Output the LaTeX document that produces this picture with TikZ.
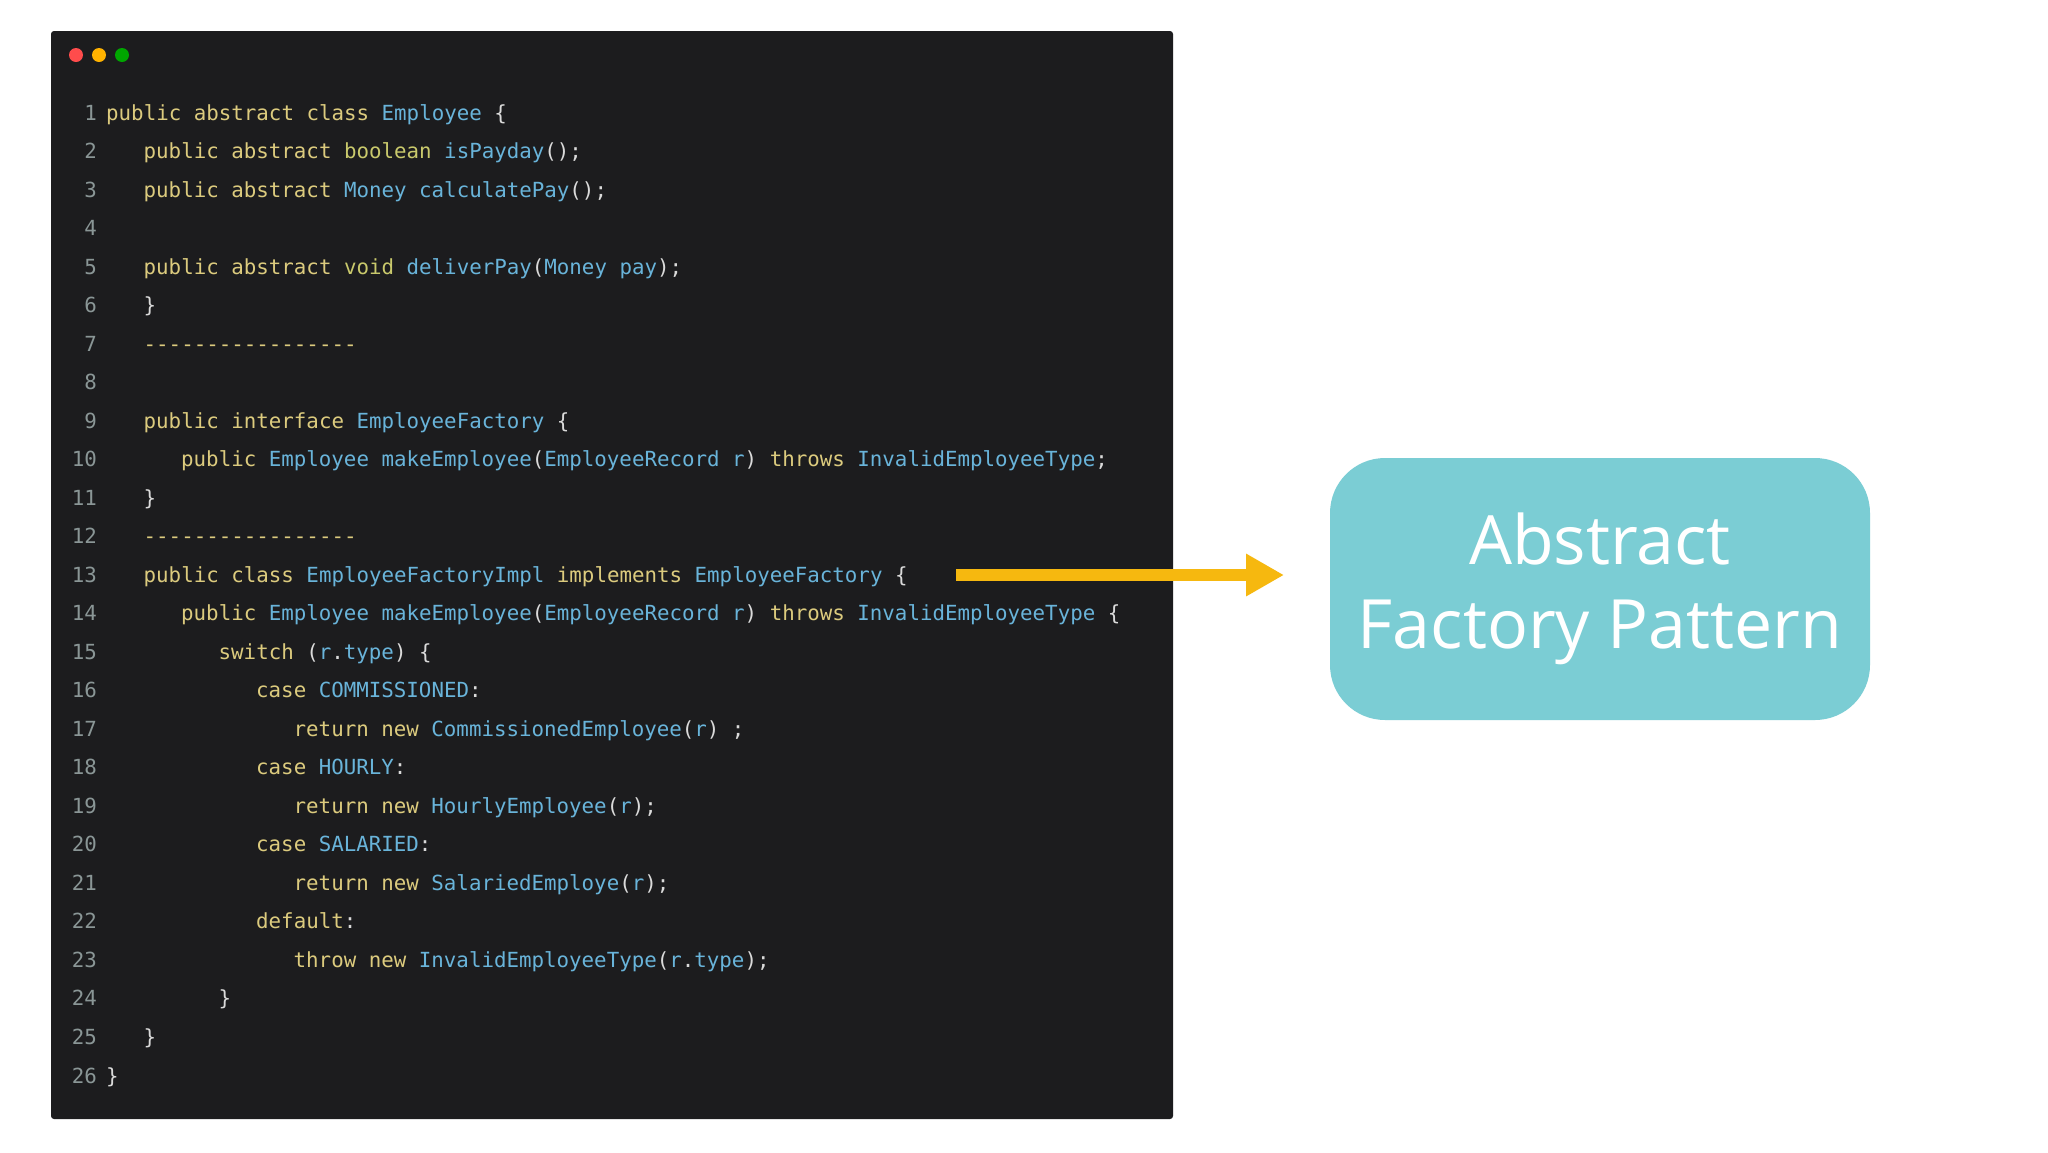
\documentclass[tikz,border=0pt]{standalone}
\usepackage{fontspec}
\setmainfont{Open Sans}
\newfontfamily\cm{DejaVu Sans Mono}
\usetikzlibrary{arrows.meta}
\definecolor{bgc}{HTML}{1C1C1E}
\definecolor{kwc}{HTML}{DCCB7E}
\definecolor{tyc}{HTML}{69B4DA}
\definecolor{prc}{HTML}{C9C96C}
\definecolor{pnc}{HTML}{DADADA}
\definecolor{lnc}{HTML}{8A9696}
\definecolor{boxc}{HTML}{7BCDD4}
\definecolor{arc}{HTML}{F6B80F}
\newcommand{\ck}[1]{\textcolor{kwc}{#1}}
\newcommand{\ct}[1]{\textcolor{tyc}{#1}}
\newcommand{\cp}[1]{\textcolor{prc}{#1}}
\newcommand{\cw}[1]{\textcolor{pnc}{#1}}
\begin{document}
\begin{tikzpicture}[x=1pt,y=-1pt,
  code/.style={anchor=base west,inner sep=0,font=\cm\fontsize{20.8}{24}\selectfont,text=pnc},
  lnum/.style={anchor=base east,inner sep=0,font=\cm\fontsize{20.8}{24}\selectfont,text=lnc}]
\useasboundingbox (0,0) rectangle (2048,1152);
\fill[white] (0,0) rectangle (2048,1152);
\fill[bgc,rounded corners=3pt] (51,31) rectangle (1173,1119);
\fill[red!70!white] (76,55) circle (7);
\fill[orange!60!yellow] (99,55) circle (7);
\fill[green!65!black] (122,55) circle (7);
\foreach \i in {1,...,26} \node[lnum] (n\i) at (97,{120+38.52*(\i-1)}) {\i};
\def\cl#1#2#3{\node[code] (c#1) at ({106+12.5*#2},{120+38.52*(#1-1)}) {#3};}
\cl{1}{0}{\ck{public abstract class} \ct{Employee} \cw{\{}}
\cl{2}{3}{\ck{public abstract} \cp{boolean} \ct{isPayday}\cw{();}}
\cl{3}{3}{\ck{public abstract} \ct{Money} \ct{calculatePay}\cw{();}}
\cl{5}{3}{\ck{public abstract} \cp{void} \ct{deliverPay}\cw{(}\ct{Money pay}\cw{);}}
\cl{6}{3}{\cw{\}}}
\cl{7}{3}{\ck{-----------------}}
\cl{9}{3}{\ck{public interface} \ct{EmployeeFactory} \cw{\{}}
\cl{10}{6}{\ck{public} \ct{Employee makeEmployee}\cw{(}\ct{EmployeeRecord r}\cw{)} \ck{throws} \ct{InvalidEmployeeType}\cw{;}}
\cl{11}{3}{\cw{\}}}
\cl{12}{3}{\ck{-----------------}}
\cl{13}{3}{\ck{public class} \ct{EmployeeFactoryImpl} \ck{implements} \ct{EmployeeFactory} \cw{\{}}
\cl{14}{6}{\ck{public} \ct{Employee makeEmployee}\cw{(}\ct{EmployeeRecord r}\cw{)} \ck{throws} \ct{InvalidEmployeeType} \cw{\{}}
\cl{15}{9}{\ck{switch} \cw{(}\ct{r}\cw{.}\ct{type}\cw{) \{}}
\cl{16}{12}{\ck{case} \ct{COMMISSIONED}\cw{:}}
\cl{17}{15}{\ck{return new} \ct{CommissionedEmployee}\cw{(}\ct{r}\cw{) ;}}
\cl{18}{12}{\ck{case} \ct{HOURLY}\cw{:}}
\cl{19}{15}{\ck{return new} \ct{HourlyEmployee}\cw{(}\ct{r}\cw{);}}
\cl{20}{12}{\ck{case} \ct{SALARIED}\cw{:}}
\cl{21}{15}{\ck{return new} \ct{SalariedEmploye}\cw{(}\ct{r}\cw{);}}
\cl{22}{12}{\ck{default}\cw{:}}
\cl{23}{15}{\ck{throw new} \ct{InvalidEmployeeType}\cw{(}\ct{r}\cw{.}\ct{type}\cw{);}}
\cl{24}{9}{\cw{\}}}
\cl{25}{3}{\cw{\}}}
\cl{26}{0}{\cw{\}}}
\node[fill=boxc,rounded corners=55pt,minimum width=540pt,minimum height=262pt,
  text=white,align=center,font=\fontsize{68}{84}\selectfont] (box) at (1600,589)
  {Abstract\\Factory Pattern};
\coordinate (a) at (956,575);
\coordinate (b) at (1284,575);
\draw[arc,line width=12pt,-{Triangle[length=38pt,width=40pt]}] (a) -- (b);
\end{tikzpicture}
\end{document}
